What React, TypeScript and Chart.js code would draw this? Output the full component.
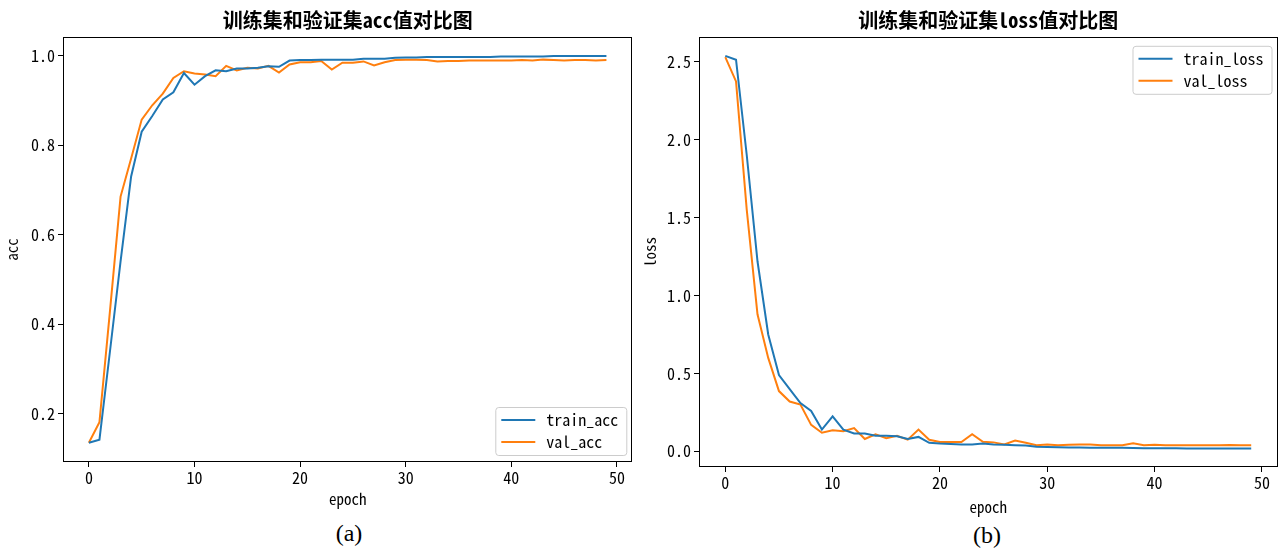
import React, { useEffect, useRef } from 'react';
import { Chart, registerables } from 'chart.js';

Chart.register(...registerables);

// ---------- data ----------
const epochs = Array.from({ length: 50 }, (_, i) => i);

const trainAcc = [
  0.135, 0.142, 0.34, 0.54, 0.73, 0.83, 0.865, 0.902, 0.918, 0.961,
  0.935, 0.954, 0.967, 0.965, 0.971, 0.971, 0.973, 0.976, 0.975, 0.989,
  0.99, 0.99, 0.991, 0.991, 0.991, 0.991, 0.993, 0.993, 0.993, 0.995,
  0.996, 0.996, 0.997, 0.997, 0.997, 0.997, 0.997, 0.997, 0.997, 0.998,
  0.998, 0.998, 0.998, 0.998, 0.999, 0.999, 0.999, 0.999, 0.999, 0.999,
];
const valAcc = [
  0.135, 0.181, 0.43, 0.685, 0.77, 0.857, 0.889, 0.915, 0.95, 0.965,
  0.96, 0.958, 0.954, 0.977, 0.967, 0.973, 0.971, 0.977, 0.962, 0.98,
  0.985, 0.985, 0.988, 0.969, 0.984, 0.984, 0.987, 0.978, 0.985, 0.99,
  0.991, 0.991, 0.99, 0.987, 0.988, 0.988, 0.989, 0.989, 0.989, 0.989,
  0.989, 0.99, 0.989, 0.991, 0.99, 0.989, 0.99, 0.99, 0.989, 0.99,
];
const trainLoss = [
  2.538, 2.513, 1.9, 1.22, 0.75, 0.49, 0.4, 0.31, 0.26, 0.14,
  0.225, 0.14, 0.115, 0.115, 0.1, 0.1, 0.097, 0.08, 0.093, 0.055,
  0.05, 0.048, 0.045, 0.045, 0.05, 0.045, 0.042, 0.04, 0.038, 0.03,
  0.028, 0.026, 0.025, 0.025, 0.024, 0.024, 0.024, 0.023, 0.022, 0.021,
  0.02, 0.02, 0.02, 0.019, 0.019, 0.019, 0.018, 0.018, 0.018, 0.018,
];
const valLoss = [
  2.53, 2.374, 1.55, 0.88, 0.6, 0.387, 0.32, 0.3, 0.17, 0.12,
  0.135, 0.13, 0.15, 0.08, 0.11, 0.085, 0.1, 0.075, 0.14, 0.075,
  0.06, 0.06, 0.06, 0.11, 0.062, 0.058, 0.045, 0.07, 0.055, 0.04,
  0.045, 0.04, 0.042, 0.045, 0.045, 0.04, 0.04, 0.04, 0.053, 0.04,
  0.042, 0.04, 0.04, 0.04, 0.04, 0.04, 0.04, 0.041, 0.04, 0.04,
];

const xTicks = [0, 10, 20, 30, 40, 50];
const accTicks = [0.2, 0.4, 0.6, 0.8, 1.0];
const lossTicks = [0, 0.5, 1.0, 1.5, 2.0, 2.5];

// ---------- styles ----------
const BLUE = '#1f77b4';
const ORANGE = '#ff7f0e';
const MONO = '"Noto Sans Mono CJK SC", "DejaVu Sans Mono", monospace';
const TITLE_FONT = '"Noto Sans Mono CJK SC", "Noto Sans CJK SC", sans-serif';

const framePlugin = {
  id: 'frame',
  afterDatasetsDraw(chart: any) {
    const { ctx, chartArea: a } = chart;
    ctx.save();
    ctx.strokeStyle = '#000';
    ctx.lineWidth = 1;
    const l = Math.round(a.left) + 0.5;
    const t = Math.round(a.top) + 0.5;
    const r = Math.round(a.right) - 0.5;
    const b = Math.round(a.bottom) - 0.5;
    ctx.strokeRect(l, t, r - l, b - t);
    ctx.restore();
  },
};

// title centred over the plot area (as matplotlib does)
const areaTitlePlugin = {
  id: 'areaTitle',
  afterDraw(chart: any, _args: any, opts: any) {
    const { ctx, chartArea: a } = chart;
    ctx.save();
    ctx.font = `bold 20px ${TITLE_FONT}`;
    ctx.fillStyle = '#000';
    ctx.textAlign = 'center';
    ctx.textBaseline = 'middle';
    ctx.fillText(opts.text, (a.left + a.right) / 2, 20.5);
    ctx.restore();
  },
};

const boxLegendPlugin = {
  id: 'boxLegend',
  afterDraw(chart: any, _args: any, opts: any) {
    const { ctx, chartArea: a } = chart;
    const items = chart.data.datasets.map((d: any) => ({ label: d.label, color: d.borderColor }));
    ctx.save();
    ctx.font = `16px ${MONO}`;
    const textW = Math.max(...items.map((i: any) => ctx.measureText(i.label).width));
    const w = 51 + textW + 8;
    const rowH = 22;
    const h = 13 * 2 + rowH * (items.length - 1);
    const x = a.right - 6 - w;
    const y = opts.corner === 'br' ? a.bottom - 7 - h : a.top + 9;
    ctx.beginPath();
    (ctx as any).roundRect(x + 0.5, y + 0.5, w, h, 3);
    ctx.fillStyle = 'rgba(255,255,255,0.8)';
    ctx.fill();
    ctx.strokeStyle = '#cccccc';
    ctx.lineWidth = 1;
    ctx.stroke();
    items.forEach((it: any, i: number) => {
      const cy = y + 13 + i * rowH;
      ctx.beginPath();
      ctx.moveTo(x + 6, cy);
      ctx.lineTo(x + 40, cy);
      ctx.strokeStyle = it.color;
      ctx.lineWidth = 2;
      ctx.stroke();
      ctx.fillStyle = '#000';
      ctx.textBaseline = 'middle';
      ctx.textAlign = 'left';
      ctx.fillText(it.label, x + 51, cy);
    });
    ctx.restore();
  },
};

type P = {
  title: string;
  yLabel: string;
  train: number[];
  val: number[];
  trainLabel: string;
  valLabel: string;
  yMin: number;
  yMax: number;
  yTicks: number[];
  yWidth: number;
  xHeight: number;
  padRight: number;
  yTitlePad: number;
  xTitlePad: number;
  legendCorner: 'br' | 'tr';
  width: number;
  height: number;
  left: number;
};

function makeConfig(p: P): any {
  const gridOpts = { display: true, drawOnChartArea: false, drawTicks: true, tickLength: 5, color: '#000', lineWidth: 1 };
  return {
    type: 'line',
    data: {
      datasets: [
        {
          label: p.trainLabel,
          data: epochs.map((e, i) => ({ x: e, y: p.train[i] })),
          borderColor: BLUE,
          backgroundColor: BLUE,
          borderWidth: 2,
          pointRadius: 0,
          tension: 0,
          fill: false,
        },
        {
          label: p.valLabel,
          data: epochs.map((e, i) => ({ x: e, y: p.val[i] })),
          borderColor: ORANGE,
          backgroundColor: ORANGE,
          borderWidth: 2,
          pointRadius: 0,
          tension: 0,
          fill: false,
        },
      ],
    },
    options: {
      animation: false,
      responsive: false,
      maintainAspectRatio: false,
      events: [],
      layout: { padding: { left: 0, right: p.padRight, top: 36.8, bottom: 0 } },
      plugins: {
        legend: { display: false },
        tooltip: { enabled: false },
        title: { display: false },
        areaTitle: { text: p.title },
        boxLegend: { corner: p.legendCorner },
      },
      scales: {
        x: {
          type: 'linear',
          min: -2.45,
          max: 51.45,
          afterBuildTicks: (s: any) => {
            s.ticks = xTicks.map((v) => ({ value: v }));
          },
          afterFit: (s: any) => {
            s.height = p.xHeight;
          },
          ticks: {
            color: '#000',
            font: { family: MONO, size: 16 },
            padding: 1,
            maxRotation: 0,
            autoSkip: false,
            callback: (v: any) => String(v),
          },
          grid: gridOpts,
          border: { display: false },
          title: {
            display: true,
            text: 'epoch',
            color: '#000',
            font: { family: MONO, size: 15 },
            padding: { top: 0, bottom: p.xTitlePad },
          },
        },
        y: {
          type: 'linear',
          min: p.yMin,
          max: p.yMax,
          afterBuildTicks: (s: any) => {
            s.ticks = p.yTicks.map((v) => ({ value: v }));
          },
          afterFit: (s: any) => {
            s.width = p.yWidth;
          },
          ticks: {
            color: '#000',
            font: { family: MONO, size: 16 },
            padding: 3,
            autoSkip: false,
            callback: (v: any) => Number(v).toFixed(1),
          },
          grid: gridOpts,
          border: { display: false },
          title: {
            display: true,
            text: p.yLabel,
            color: '#000',
            font: { family: MONO, size: 15 },
            padding: { top: p.yTitlePad, bottom: 0 },
          },
        },
      },
    },
    plugins: [framePlugin, areaTitlePlugin, boxLegendPlugin],
  };
}

function LineChart(p: P) {
  const ref = useRef<HTMLCanvasElement | null>(null);
  useEffect(() => {
    if (!ref.current) return;
    const chart = new Chart(ref.current, makeConfig(p));
    return () => chart.destroy();
  }, []);
  return (
    <div style={{ position: 'absolute', left: p.left, top: 0, width: p.width, height: p.height }}>
      <canvas ref={ref} width={p.width} height={p.height} style={{ display: 'block' }} />
    </div>
  );
}

const captionStyle: React.CSSProperties = {
  position: 'absolute',
  width: 100,
  textAlign: 'center',
  fontFamily: '"Liberation Serif", "Times New Roman", serif',
  fontSize: 24,
  lineHeight: '26px',
  color: '#000',
};

export default function App() {
  return (
    <div style={{ position: 'absolute', left: 0, top: 0, width: 1279, height: 548, background: '#fff', overflow: 'hidden' }}>
      <LineChart
        title="训练集和验证集acc值对比图"
        yLabel="acc"
        train={trainAcc}
        val={valAcc}
        trainLabel="train_acc"
        valLabel="val_acc"
        yMin={0.092}
        yMax={1.042}
        yTicks={accTicks}
        yWidth={63}
        xHeight={58}
        padRight={7.7}
        yTitlePad={3.4}
        xTitlePad={11.4}
        legendCorner="br"
        width={640}
        height={520}
        left={0}
      />
      <LineChart
        title="训练集和验证集loss值对比图"
        yLabel="loss"
        train={trainLoss}
        val={valLoss}
        trainLabel="train_loss"
        valLabel="val_loss"
        yMin={-0.1}
        yMax={2.66}
        yTicks={lossTicks}
        yWidth={59}
        xHeight={53}
        padRight={1.5}
        yTitlePad={1.4}
        xTitlePad={3.4}
        legendCorner="tr"
        width={639}
        height={520}
        left={640}
      />
      <div style={{ ...captionStyle, left: 299, top: 520 }}>(a)</div>
      <div style={{ ...captionStyle, left: 937, top: 522 }}>(b)</div>
    </div>
  );
}
